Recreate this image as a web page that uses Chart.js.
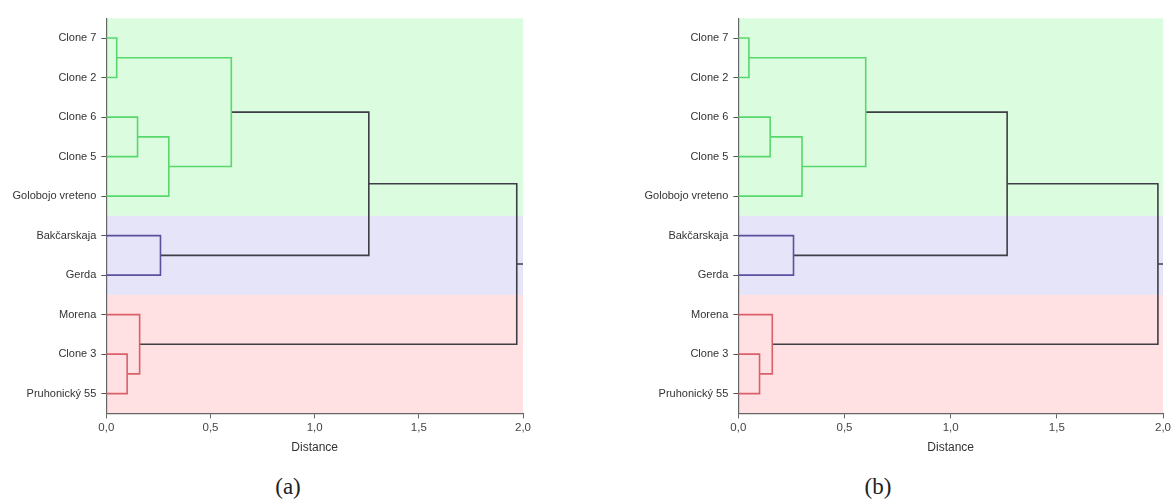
<!DOCTYPE html>
<html>
<head>
<meta charset="utf-8">
<script src="https://cdn.jsdelivr.net/npm/chart.js@4.4.0/dist/chart.umd.min.js"></script>
<style>
  html, body { margin: 0; padding: 0; background: #fff; }
  body { width: 1174px; height: 499px; position: relative; overflow: hidden; }
  .panel { position: absolute; top: 0; height: 470px; }
  #panelA { left: 0; width: 534px; }
  #panelB { left: 600px; width: 574px; }
  .caption {
    position: absolute; top: 474px; line-height: 28px;
    font: 23px "Liberation Serif", "DejaVu Serif", serif; color: #222;
    transform: translateX(-50%);
  }
</style>
</head>
<body>
<div class="panel" id="panelA"><canvas id="chartA"></canvas></div>
<div class="panel" id="panelB"><canvas id="chartB"></canvas></div>
<div class="caption" style="left:288px">(a)</div>
<div class="caption" style="left:878px">(b)</div>

<script>
// ── Data ──
var leafNames = ['Clone 7', 'Clone 2', 'Clone 6', 'Clone 5', 'Golobojo vreteno',
                 'Bakčarskaja', 'Gerda', 'Morena', 'Clone 3', 'Pruhonický 55'];

// linkage: leaves are 0..9, every merge makes a new node numbered from 10
var linkLeft  = [0, 2, 11, 10, 5, 8, 7, 13, 17];
var linkRight = [1, 3,  4, 12, 6, 9, 15, 14, 16];
var linkGroup = ['g', 'g', 'g', 'g', 'p', 'r', 'r', 'k', 'k'];

var heightsA = [0.05, 0.15, 0.30, 0.60, 0.26, 0.10, 0.16, 1.26, 1.97];
var heightsB = [0.05, 0.15, 0.30, 0.60, 0.26, 0.10, 0.16, 1.266, 1.976];

var distTicks = [0, 0.5, 1.0, 1.5, 2.0];
var bandEdges = [-0.5, 4.5, 6.5, 9.5];

// ── Styles ──
var FONT = '"Liberation Sans", Arial, sans-serif';
var groupColors = { g: '#58d86c', p: '#5b4f9e', r: '#d9606a', k: '#3e3e46' };
var bandColors = ['#dcfcdf', '#e5e4f9', '#ffe0e3'];

var bandPlugin = {
  id: 'bands',
  beforeDraw: function(chart) {
    var ctx = chart.ctx, xs = chart.scales.x, ys = chart.scales.y;
    ctx.save();
    for (var i = 0; i < bandColors.length; i++) {
      var t = ys.getPixelForValue(bandEdges[i]);
      var b = ys.getPixelForValue(bandEdges[i + 1]);
      ctx.fillStyle = bandColors[i];
      ctx.fillRect(xs.left, t, xs.right - xs.left, b - t);
    }
    ctx.restore();
  }
};

function buildLinks(heights) {
  var nodeY = leafNames.map(function(_, i) { return i; });
  var nodeH = leafNames.map(function() { return 0; });
  var sets = [];
  for (var i = 0; i < linkLeft.length; i++) {
    var a = linkLeft[i], b = linkRight[i], h = heights[i];
    sets.push(_line([
      { x: nodeH[a], y: nodeY[a] }, { x: h, y: nodeY[a] },
      { x: h, y: nodeY[b] }, { x: nodeH[b], y: nodeY[b] }
    ], groupColors[linkGroup[i]]));
    nodeY.push((nodeY[a] + nodeY[b]) / 2);
    nodeH.push(h);
  }
  // stub from the root to the end of the axis
  var root = nodeY.length - 1;
  sets.push(_line([
    { x: nodeH[root], y: nodeY[root] },
    { x: distTicks[distTicks.length - 1], y: nodeY[root] }
  ], groupColors.k));
  return sets;
}

function _line(pts, color) {
  return {
    data: pts, showLine: true, borderColor: color, borderWidth: 1.6,
    pointRadius: 0, tension: 0, fill: false
  };
}

function makeChart(id, heights, axisWidth, padRight) {
  return new Chart(document.getElementById(id), {
    type: 'scatter',
    data: { datasets: buildLinks(heights) },
    plugins: [bandPlugin],
    options: {
      responsive: true,
      maintainAspectRatio: false,
      animation: false,
      layout: { padding: { top: 18.3, right: padRight, bottom: 11, left: 0 } },
      plugins: { legend: { display: false }, tooltip: { enabled: false } },
      scales: {
        x: {
          type: 'linear',
          min: distTicks[0],
          max: distTicks[distTicks.length - 1],
          afterBuildTicks: function(s) {
            s.ticks = distTicks.map(function(v) { return { value: v }; });
          },
          afterFit: function(s) { s.height = 45.6; },
          ticks: {
            callback: function(v) { return v.toFixed(1).replace('.', ','); },
            font: { family: FONT, size: 11.5 }, color: '#444', padding: 3, maxRotation: 0
          },
          grid: { drawOnChartArea: false, drawTicks: true, tickLength: 5, color: '#666' },
          border: { color: '#666', width: 1.2 },
          title: {
            display: true, text: 'Distance', color: '#333',
            font: { family: FONT, size: 12 }, padding: { top: 4, bottom: 4 }
          }
        },
        y: {
          type: 'linear',
          min: bandEdges[0],
          max: bandEdges[bandEdges.length - 1],
          reverse: true,
          afterBuildTicks: function(s) {
            s.ticks = leafNames.map(function(_, i) { return { value: i }; });
          },
          afterFit: function(s) { s.width = axisWidth; },
          ticks: {
            autoSkip: false,
            callback: function(v) { return leafNames[v]; },
            font: { family: FONT, size: 11 }, color: '#333', padding: 5
          },
          grid: { drawOnChartArea: false, drawTicks: true, tickLength: 5, color: '#555' },
          border: { color: '#666', width: 1.2 }
        }
      }
    }
  });
}

makeChart('chartA', heightsA, 106.3, 10);
makeChart('chartB', heightsB, 138.3, 10.7);
</script>
</body>
</html>
